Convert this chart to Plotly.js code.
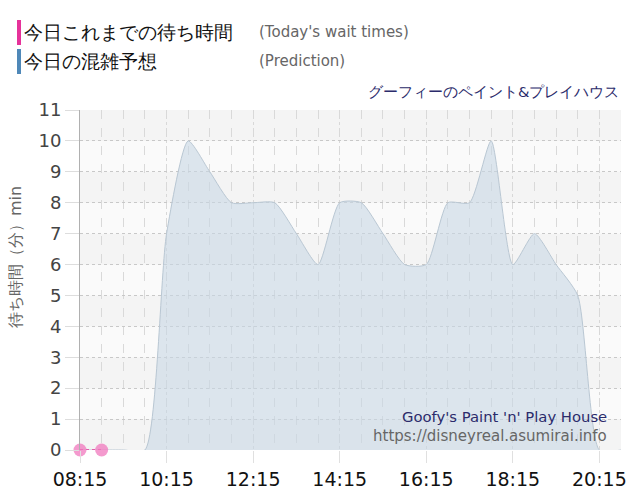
<!DOCTYPE html>
<html><head><meta charset="utf-8">
<script src="https://cdn.plot.ly/plotly-3.0.1.min.js"></script>
<style>html,body{margin:0;padding:0;background:#fff}#chart{width:640px;height:500px}</style>
</head><body><div id="chart"></div>
<script>
const day = '2024-01-01 ';
const predTimes = ['08:15','08:45','09:15','09:45','10:15','10:45','11:15','11:45','12:15','12:45','13:15','13:45','14:15','14:45','15:15','15:45','16:15','16:45','17:15','17:45','18:15','18:45','19:15','19:45','20:15','20:45'];
const predValues = [0,0,0,0,7,10,9,8,8,8,7,6,8,8,7,6,6,8,8,10,6,7,6,5,0,0];
const actualTimes = ['08:15','08:45'];
const actualValues = [0,0];
const xTickLabels = ['08:15','10:15','12:15','14:15','16:15','18:15','20:15'];
const yTicks = [0,1,2,3,4,5,6,7,8,9,10,11];
const titleJa = 'グーフィーのペイント&プレイハウス';
const titleEn = "Goofy's Paint 'n' Play House";
const siteUrl = 'https://disneyreal.asumirai.info';
const yTitle = '待ち時間（分）min';

const F = 'DejaVu Sans, Verdana, sans-serif';
const bands = [];
for (let i = 0; i < 11; i++) {
  bands.push({type:'rect', xref:'paper', yref:'y', x0:0, x1:1, y0:i, y1:i+1,
    fillcolor: i % 2 === 0 ? '#f4f4f4' : '#fafafa', line:{width:0}, layer:'below'});
}
const traces = [
  {x: predTimes.map(t => day + t), y: predValues, type:'scatter', mode:'lines',
   line:{shape:'spline', smoothing:0.6, color:'#b9c7d3', width:1},
   fill:'tozeroy', fillcolor:'rgba(200,215,228,0.6)', hoverinfo:'skip', cliponaxis:false},
  {x: actualTimes.map(t => day + t), y: actualValues, type:'scatter', mode:'lines+markers',
   line:{color:'#e6329a', width:1.5, dash:'dot'},
   marker:{size:13, color:'rgba(240,120,190,0.75)'}, cliponaxis:false}
];
const layout = {
  width:640, height:500, showlegend:false,
  margin:{l:80, r:19, t:110, b:50},
  paper_bgcolor:'#fff', plot_bgcolor:'#f7f7f7',
  font:{family:F},
  xaxis:{type:'date', range:[day+'08:15', day+'20:45'],
    tickvals: xTickLabels.map(t => day + t), ticktext: xTickLabels,
    tickfont:{size:19, color:'#111', family:F},
    ticks:'outside', ticklen:12, tickcolor:'#e0e0e0',
    showgrid:true, gridcolor:'#d8d8d8', griddash:'dot',
    minor:{dtick:1800000, tick0:day+'08:15', showgrid:true, gridcolor:'#d9d9d9', griddash:'dash'},
    showline:false, zeroline:false, fixedrange:true},
  yaxis:{range:[0,11], tickvals:yTicks, ticktext:yTicks.map(String),
    tickfont:{size:18, color:'#444', family:F},
    ticks:'outside', ticklen:14, tickcolor:'#dddddd',
    showgrid:true, gridcolor:'#c8c8c8', griddash:'dot',
    showline:true, linecolor:'#b0b0b0', linewidth:1, zeroline:false},
  shapes: bands,
  annotations:[
    {xref:'paper', yref:'paper', x:1, y:1.053, xanchor:'right', yanchor:'middle', showarrow:false,
     text:titleJa, font:{size:14.7, color:'#2b2b6b', family:F}},
    {xref:'paper', yref:'paper', x:0.978, y:0.1, xanchor:'right', yanchor:'middle', showarrow:false,
     text:titleEn, font:{size:14.8, color:'#2b2b6b', family:F}},
    {xref:'paper', yref:'paper', x:0.978, y:0.041, xanchor:'right', yanchor:'middle', showarrow:false,
     text:siteUrl, font:{size:15, color:'#666', family:F}},
    {xref:'paper', yref:'paper', x:-0.118, y:0.568, xanchor:'center', yanchor:'middle', showarrow:false,
     textangle:-90, text:yTitle, font:{size:16, color:'#666', family:F}}
  ]
};
Plotly.newPlot('chart', traces, layout, {staticPlot:true}).then(() => {
  const svg = document.querySelector('#chart .main-svg:last-of-type');
  const ns = 'http://www.w3.org/2000/svg';
  const g = document.createElementNS(ns, 'g');
  const items = [
    {c:'#e6329a', y:20, ja:'今日これまでの待ち時間', en:"(Today's wait times)"},
    {c:'#4f88b8', y:49, ja:'今日の混雑予想', en:'(Prediction)'}
  ];
  items.forEach(it => {
    const r = document.createElementNS(ns, 'rect');
    r.setAttribute('x', 17); r.setAttribute('y', it.y); r.setAttribute('width', 4); r.setAttribute('height', 25);
    r.setAttribute('fill', it.c); g.appendChild(r);
    const t1 = document.createElementNS(ns, 'text');
    t1.setAttribute('x', 24); t1.setAttribute('y', it.y + 19);
    t1.setAttribute('font-family', F); t1.setAttribute('font-size', '19'); t1.setAttribute('fill', '#111');
    t1.textContent = it.ja; g.appendChild(t1);
    const t2 = document.createElementNS(ns, 'text');
    t2.setAttribute('x', 259); t2.setAttribute('y', it.y + 17);
    t2.setAttribute('font-family', F); t2.setAttribute('font-size', '15'); t2.setAttribute('fill', '#666');
    t2.textContent = it.en; g.appendChild(t2);
  });
  svg.appendChild(g);
});
</script></body></html>
